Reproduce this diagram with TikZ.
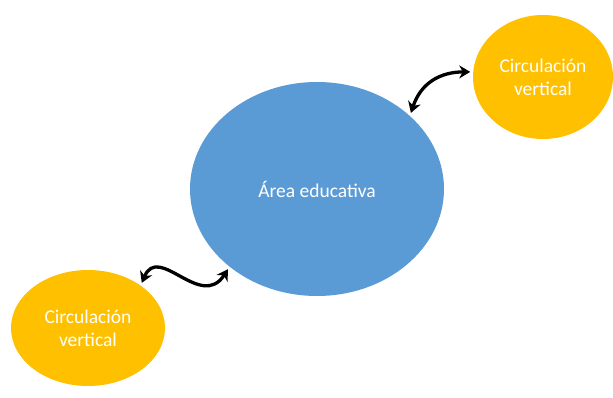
\documentclass[tikz,border=0pt]{standalone}
\usepackage{fontspec}
\setmainfont{Carlito}
\usetikzlibrary{shapes.geometric, arrows.meta}

\definecolor{azul}{HTML}{5B9BD5}
\definecolor{oro}{HTML}{FFC000}

\begin{document}
\begin{tikzpicture}[
  x=1pt, y=-1pt,
  font=\fontsize{19.5}{23}\selectfont,
  zona/.style={ellipse, draw=none, text=white, align=center, inner sep=0pt,
               outer sep=3pt},
  arr/.style={{Stealth[length=11pt,width=13pt]}-{Stealth[length=11pt,width=13pt]},
              line width=3.3pt, black}
]
\useasboundingbox (0,0) rectangle (613,398);

% --- Area central ---
\node[zona, fill=azul, minimum width=254pt, minimum height=214pt] (educ)
      at (317,189) {Área educativa};

% --- Circulaciones ---
\node[zona, fill=oro, minimum width=140pt, minimum height=124pt] (circA)
      at (543,77) {Circulación\\vertical};
\node[zona, fill=oro, minimum width=154pt, minimum height=116pt] (circB)
      at (88,328) {Circulación\\vertical};

% --- Relaciones ---
\draw[arr] (educ.39) .. controls +(10,-30) and +(-30,0) .. (circA.176);
\draw[arr] (circB.40) .. controls +(17,-40) and +(-27,42) .. (educ.222);

\end{tikzpicture}
\end{document}
